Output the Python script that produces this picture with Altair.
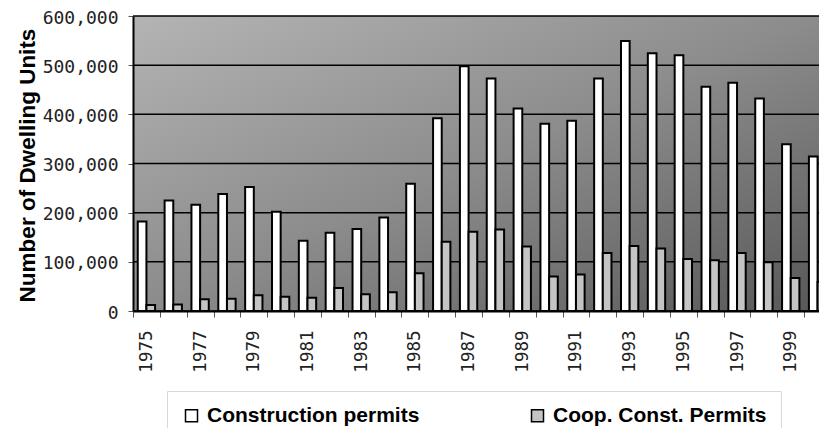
import altair as alt
import pandas as pd

years = [str(y) for y in range(1975, 2001)]
construction = [182000, 225000, 216000, 238000, 252000, 202000, 143000, 159000, 167000,
                190000, 259000, 392000, 498000, 473000, 412000, 381000, 387000, 473000,
                549000, 524000, 520000, 456000, 464000, 432000, 339000, 314000]
coop = [12000, 13000, 24000, 25000, 32000, 29000, 27000, 47000, 34000, 38000, 77000,
        141000, 161000, 166000, 131000, 70000, 74000, 118000, 132000, 127000, 106000,
        103000, 118000, 99000, 67000, 59000]
series_names = ["Construction permits", "Coop. Const. Permits"]
series_colors = ["#ffffff", "#c4c4c4"]
y_ticks = [0, 100000, 200000, 300000, 400000, 500000, 600000]

W, H = 686, 295

rows = []
for i, yr in enumerate(years):
    rows.append({"year": yr, "series": series_names[0], "value": construction[i]})
    rows.append({"year": yr, "series": series_names[1], "value": coop[i]})
df = pd.DataFrame(rows)
grid_df = pd.DataFrame({"value": y_ticks})
bg_df = pd.DataFrame({"k": [0]})

bg_gradient = alt.LinearGradient(
    gradient="linear", x1=0, y1=0, x2=1, y2=1,
    stops=[
        alt.GradientStop(offset=0, color="#b4b4b4"),
        alt.GradientStop(offset=0.5, color="#8c8c8c"),
        alt.GradientStop(offset=1, color="#585858"),
    ],
)

y_axis = alt.Axis(
    values=y_ticks, format=",d", grid=False, zindex=1,
    tickSize=5, tickColor="#555555", labelPadding=10, labelOffset=2,
    labelFont="DejaVu Sans Mono", labelFontSize=18, labelColor="#222222",
    domainColor="black", domainWidth=2,
    title="Number of Dwelling Units", titleFont="Liberation Sans", titleFontSize=22.5,
    titleFontWeight="bold", titleColor="black", titleX=-99, titleY=149,
    titleBaseline="alphabetic",
)
y_scale = alt.Scale(domain=[0, 600000], nice=False)

background = alt.Chart(bg_df).mark_rect(color=bg_gradient).encode(
    x=alt.value(0), x2=alt.value(W), y=alt.value(0), y2=alt.value(H)
)

grid = alt.Chart(grid_df).mark_rule(color="black", strokeWidth=1.5).encode(
    y=alt.Y("value:Q", scale=y_scale, axis=y_axis)
)

bars = alt.Chart(df).mark_bar(stroke="black", strokeWidth=2).encode(
    x=alt.X(
        "year:O",
        sort=years,
        scale=alt.Scale(range=[0, 698], paddingInner=0, paddingOuter=0),
        axis=alt.Axis(
            title=None, labelAngle=-90, labelFont="DejaVu Sans Mono", labelFontSize=17.5,
            labelColor="#222222", tickBand="extent", tickSize=6, tickColor="#555555",
            labelPadding=13, domainColor="black", domainWidth=2, grid=False, zindex=1,
            labelExpr="toNumber(datum.value) % 2 == 1 ? datum.label : ''",
        ),
    ),
    xOffset=alt.XOffset("series:N", sort=series_names,
                        scale=alt.Scale(paddingInner=0, paddingOuter=0.55)),
    y=alt.Y("value:Q", scale=y_scale, axis=y_axis),
    color=alt.Color(
        "series:N",
        scale=alt.Scale(domain=series_names, range=series_colors),
        title=None,
        legend=alt.Legend(
            orient="none", legendX=34, legendY=375, direction="horizontal",
            columnPadding=107, padding=14, strokeColor="#d8d8d8",
            symbolType="square", symbolSize=144, symbolStrokeColor="black",
            symbolStrokeWidth=1.5, labelFont="Liberation Sans", labelFontSize=21,
            labelFontWeight="bold", labelColor="black", labelLimit=300, labelOffset=5,
        ),
    ),
)

chart = alt.layer(background, grid, bars).properties(
    width=W,
    height=H,
    autosize=alt.AutoSizeParams(type="none"),
    padding={"left": 125, "top": 8, "right": 0, "bottom": 117},
    background="white",
).configure_view(strokeWidth=0)

chart.save("out.html", embed_options={"renderer": "svg", "actions": False})
